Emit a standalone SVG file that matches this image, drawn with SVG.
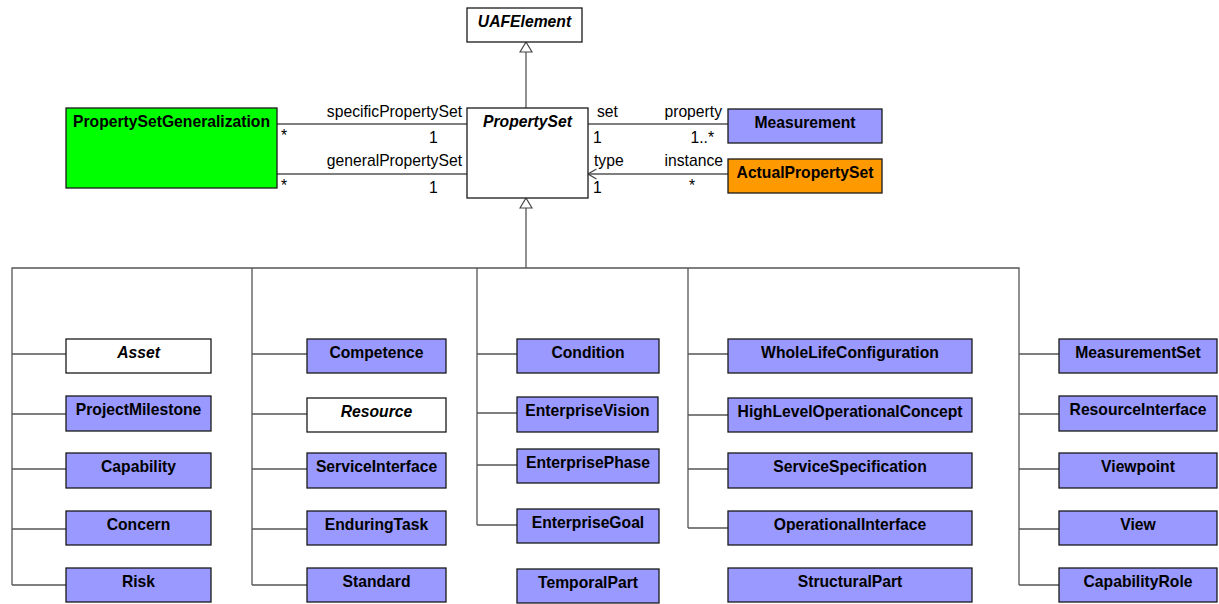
<svg xmlns="http://www.w3.org/2000/svg" width="1219" height="604" viewBox="0 0 1219 604">
<style>
.box{stroke:#1a1a1a;stroke-width:1.3}
.w{fill:#ffffff}
.b{fill:#9999ff}
.g{fill:#00ff00}
.o{fill:#ff9900}
.t{font-family:"Liberation Sans",Arial,sans-serif;font-size:15.7px;font-weight:bold;fill:#000;text-anchor:middle}
.i{font-style:italic}
.l{font-family:"Liberation Sans",Arial,sans-serif;font-size:15.7px;fill:#000}
.e{text-anchor:end}
.c{fill:none;stroke:#555;stroke-width:1.3}
</style>
<defs>
<marker id="gen" viewBox="0 0 12 14" refX="11" refY="7" markerWidth="12" markerHeight="14" markerUnits="userSpaceOnUse" orient="auto">
<path d="M1,1 L11,7 L1,13 z" fill="#fff" stroke="#444" stroke-width="1.2"/>
</marker>
<marker id="open" viewBox="0 0 10 12" refX="9.5" refY="6" markerWidth="10" markerHeight="12" markerUnits="userSpaceOnUse" orient="auto">
<path d="M1,1 L9.5,6 L1,11" fill="none" stroke="#444" stroke-width="1.2"/>
</marker>
</defs>
<g id="connectors">
<path class="c" d="M526,108 V42" marker-end="url(#gen)"/>
<path class="c" d="M526,268 V198" marker-end="url(#gen)"/>
<path class="c" d="M277,124 H467 M277,174 H467 M588,124 H728"/>
<path class="c" d="M728,174 H588" marker-end="url(#open)"/>
<path class="c" d="M12,585 V268 H1019 V585"/>
<path class="c" d="M252,268 V585 M477,268 V525 M688,268 V528"/>
<path class="c" d="M12,354 H66 M12,414 H66 M12,469 H66 M12,529 H66 M12,585 H66"/>
<path class="c" d="M252,354 H307 M252,414 H307 M252,469 H307 M252,529 H307 M252,585 H307"/>
<path class="c" d="M477,354 H517 M477,413 H517 M477,465 H517 M477,525 H517"/>
<path class="c" d="M688,354 H728 M688,415 H728 M688,469 H728 M688,528 H728"/>
<path class="c" d="M1019,354 H1059 M1019,414 H1059 M1019,469 H1059 M1019,529 H1059 M1019,585 H1059"/>
<text class="l e" x="462" y="117">specificPropertySet</text>
<text class="l" x="281" y="141">*</text>
<text class="l" x="429" y="143">1</text>
<text class="l e" x="462" y="166">generalPropertySet</text>
<text class="l" x="281" y="191">*</text>
<text class="l" x="429" y="193">1</text>
<text class="l" x="597" y="117">set</text>
<text class="l e" x="722" y="117">property</text>
<text class="l" x="593" y="143">1</text>
<text class="l e" x="714" y="143">1..*</text>
<text class="l" x="594" y="166">type</text>
<text class="l e" x="723" y="166">instance</text>
<text class="l" x="593" y="193">1</text>
<text class="l" x="689" y="191">*</text>
</g>
<g id="UAFElement"><rect class="box w" x="467" y="8" width="115" height="34"/><text class="t i" x="524.5" y="27">UAFElement</text></g>
<g id="PropertySet"><rect class="box w" x="467" y="108" width="121" height="90"/><text class="t i" x="527.5" y="127">PropertySet</text></g>
<g id="PropertySetGeneralization"><rect class="box g" x="66" y="108" width="211" height="80"/><text class="t" x="171.5" y="127">PropertySetGeneralization</text></g>
<g id="Measurement"><rect class="box b" x="728" y="109" width="154" height="34"/><text class="t" x="805" y="128">Measurement</text></g>
<g id="ActualPropertySet"><rect class="box o" x="728" y="159" width="154" height="34"/><text class="t" x="805" y="178">ActualPropertySet</text></g>

<g id="Asset"><rect class="box w" x="66" y="339" width="145" height="34"/><text class="t i" x="138.5" y="358">Asset</text></g>
<g id="ProjectMilestone"><rect class="box b" x="66" y="396" width="145" height="35"/><text class="t" x="138.5" y="415">ProjectMilestone</text></g>
<g id="Capability"><rect class="box b" x="66" y="453" width="145" height="35"/><text class="t" x="138.5" y="472">Capability</text></g>
<g id="Concern"><rect class="box b" x="66" y="511" width="145" height="34"/><text class="t" x="138.5" y="530">Concern</text></g>
<g id="Risk"><rect class="box b" x="66" y="568" width="145" height="34"/><text class="t" x="138.5" y="587">Risk</text></g>

<g id="Competence"><rect class="box b" x="307" y="339" width="139" height="34"/><text class="t" x="376.5" y="358">Competence</text></g>
<g id="Resource"><rect class="box w" x="307" y="398" width="139" height="34"/><text class="t i" x="376.5" y="417">Resource</text></g>
<g id="ServiceInterface"><rect class="box b" x="307" y="453" width="139" height="35"/><text class="t" x="376.5" y="472">ServiceInterface</text></g>
<g id="EnduringTask"><rect class="box b" x="307" y="511" width="139" height="34"/><text class="t" x="376.5" y="530">EnduringTask</text></g>
<g id="Standard"><rect class="box b" x="307" y="568" width="139" height="34"/><text class="t" x="376.5" y="587">Standard</text></g>

<g id="Condition"><rect class="box b" x="517" y="339" width="142" height="34"/><text class="t" x="588" y="358">Condition</text></g>
<g id="EnterpriseVision"><rect class="box b" x="517" y="397" width="141" height="35"/><text class="t" x="587.5" y="416">EnterpriseVision</text></g>
<g id="EnterprisePhase"><rect class="box b" x="517" y="449" width="142" height="34"/><text class="t" x="588" y="468">EnterprisePhase</text></g>
<g id="EnterpriseGoal"><rect class="box b" x="517" y="509" width="142" height="34"/><text class="t" x="588" y="528">EnterpriseGoal</text></g>
<g id="TemporalPart"><rect class="box b" x="517" y="569" width="142" height="34"/><text class="t" x="588" y="588">TemporalPart</text></g>

<g id="WholeLifeConfiguration"><rect class="box b" x="728" y="339" width="244" height="34"/><text class="t" x="850" y="358">WholeLifeConfiguration</text></g>
<g id="HighLevelOperationalConcept"><rect class="box b" x="728" y="398" width="244" height="34"/><text class="t" x="850" y="417">HighLevelOperationalConcept</text></g>
<g id="ServiceSpecification"><rect class="box b" x="728" y="453" width="244" height="35"/><text class="t" x="850" y="472">ServiceSpecification</text></g>
<g id="OperationalInterface"><rect class="box b" x="728" y="511" width="244" height="34"/><text class="t" x="850" y="530">OperationalInterface</text></g>
<g id="StructuralPart"><rect class="box b" x="728" y="568" width="244" height="34"/><text class="t" x="850" y="587">StructuralPart</text></g>

<g id="MeasurementSet"><rect class="box b" x="1059" y="339" width="158" height="34"/><text class="t" x="1138" y="358">MeasurementSet</text></g>
<g id="ResourceInterface"><rect class="box b" x="1059" y="396" width="158" height="35"/><text class="t" x="1138" y="415">ResourceInterface</text></g>
<g id="Viewpoint"><rect class="box b" x="1059" y="453" width="158" height="35"/><text class="t" x="1138" y="472">Viewpoint</text></g>
<g id="View"><rect class="box b" x="1059" y="511" width="158" height="34"/><text class="t" x="1138" y="530">View</text></g>
<g id="CapabilityRole"><rect class="box b" x="1059" y="568" width="158" height="34"/><text class="t" x="1138" y="587">CapabilityRole</text></g>
</svg>
